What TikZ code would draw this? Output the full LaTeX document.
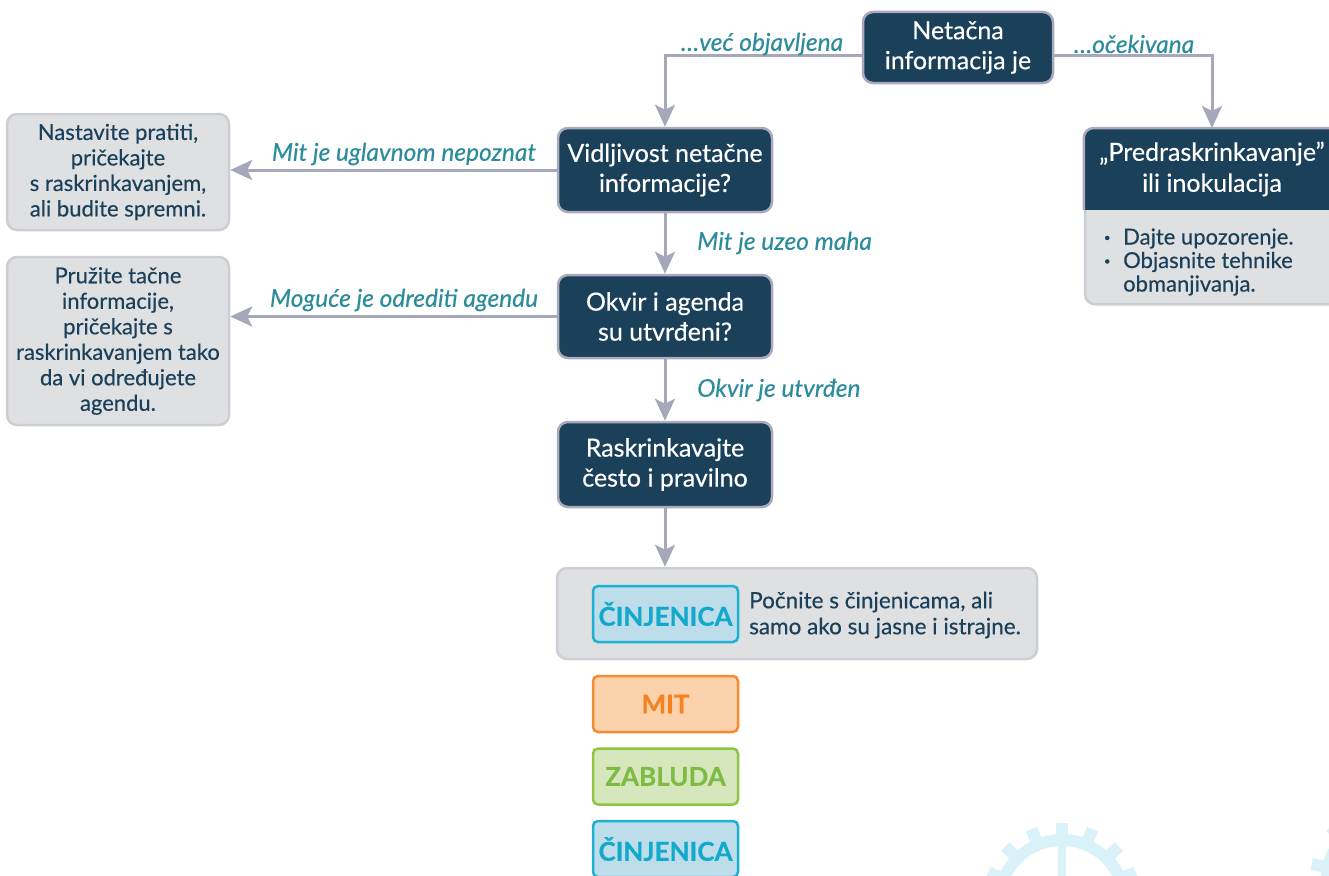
\documentclass[tikz,border=0pt]{standalone}
\usepackage{fontspec}
\setmainfont{Lato}[FakeBold=0.35]
\usetikzlibrary{arrows.meta,calc}
\definecolor{navy}{HTML}{1B4059}
\definecolor{nborder}{HTML}{A9AABC}
\definecolor{gfill}{HTML}{DFE0E2}
\definecolor{gborder}{HTML}{CDCED4}
\definecolor{dtext}{HTML}{1B4059}
\definecolor{tealc}{HTML}{2C8C9C}
\definecolor{arrowc}{HTML}{A6A7B9}
\definecolor{cfill}{HTML}{BCDDE9}
\definecolor{cdraw}{HTML}{1CB0D2}
\definecolor{ctext}{HTML}{12A9CC}
\definecolor{mfill}{HTML}{FCD2AC}
\definecolor{mdraw}{HTML}{F58A2F}
\definecolor{mtext}{HTML}{F5821F}
\definecolor{zfill}{HTML}{D7E7BD}
\definecolor{zdraw}{HTML}{8DC641}
\definecolor{ztext}{HTML}{7DBB42}
\definecolor{gearc}{HTML}{D9F1F8}
\tikzset{
  darkbox/.style={draw=nborder, line width=2.5pt, fill=navy, rounded corners=10pt,
    text=white, align=center, font=\fontsize{25}{30}\selectfont, minimum width=214pt, inner sep=0pt},
  graybox/.style={draw=gborder, line width=2.5pt, fill=gfill, rounded corners=10pt,
    text=dtext, align=center, font=\fontsize{22}{25.5}\selectfont, inner sep=0pt},
  lbl/.style={text=tealc, font=\fontsize{24.5}{28}\selectfont\itshape, inner sep=0pt},
  arr/.style={draw=arrowc, line width=3pt, -{Stealth[length=22pt,width=20pt,inset=5pt]}},
  tag/.style={rounded corners=5pt, line width=2.5pt, minimum width=145pt, minimum height=56pt,
    inner sep=0pt, font=\fontsize{26}{28}\selectfont\bfseries},
  cin/.style={tag, draw=cdraw, fill=cfill, text=ctext},
  mitst/.style={tag, draw=mdraw, fill=mfill, text=mtext},
  zabst/.style={tag, draw=zdraw, fill=zfill, text=ztext},
  gearpart/.style={fill=gearc},
}
\begin{document}
\begin{tikzpicture}[x=1pt,y=-1pt]
\useasboundingbox (0,0) rectangle (1329,875);
\clip (0,0) rectangle (1329,875);

% decorative gears
\begin{scope}[shift={(1062,903)}]
  \fill[gearpart] (0,0) circle (69);
  \foreach \a in {0,22.5,...,337.5} \draw[gearc, line width=12pt] (\a:60) -- (\a:80);
  \fill[white] (0,0) circle (57);
  \fill[gearpart] (-4,-60) rectangle (4,60);
  \fill[gearpart] (-60,-4) rectangle (60,4);
\end{scope}
\begin{scope}[shift={(1390,880)}]
  \fill[gearpart] (0,0) circle (69);
  \foreach \i in {0,...,11} \draw[gearc, line width=12pt] (221.6+30*\i:60) -- (221.6+30*\i:80);
  \fill[white] (0,0) circle (57);
\end{scope}

% main flow
\node[darkbox, minimum width=190pt, minimum height=71pt] (top) at (958,47.5) {Netačna\\informacija je};
\node[darkbox, minimum height=84pt] (vid) at (665,170) {Vidljivost netačne\\informacije?};
\node[darkbox, minimum height=83pt] (okv) at (665,316.5) {Okvir i agenda\\su utvrđeni?};
\node[darkbox, minimum height=85pt] (ras) at (665,464.5) {Raskrinkavajte\\često i pravilno};

\node[graybox, minimum width=222pt, minimum height=116pt] (b1) at (118,172)
  {Nastavite pratiti,\\pričekajte\\s raskrinkavanjem,\\ali budite spremni.};
\node[graybox, minimum width=222pt, minimum height=168pt] (b2) at (118,341)
  {Pružite tačne\\informacije,\\pričekajte s\\raskrinkavanjem tako\\da vi određujete\\agendu.};

% right box
\node[graybox, minimum width=254pt, minimum height=175pt, anchor=north] (preout) at (1212,128) {};
\begin{scope}
  \clip[rounded corners=10pt] (preout.north west) rectangle (preout.south east);
  \fill[navy] (preout.north west) rectangle ($(preout.north east)+(0,82)$);
\end{scope}
\draw[nborder, line width=2.5pt, rounded corners=10pt]
  ($(preout.north west)+(0,82)$) -- (preout.north west) -- (preout.north east) -- ($(preout.north east)+(0,82)$);
\node[text=white, align=center, font=\fontsize{25}{31}\selectfont, inner sep=0pt] (pre)
  at ($(preout.north)+(0,41)$) {„Predraskrinkavanje”\\ili inokulacija};
\node[anchor=west, text=dtext, align=left, font=\fontsize{22}{23.5}\selectfont, inner sep=0pt] (prebody)
  at (1104,262) {\makebox[19pt][l]{\textbf{·}}Dajte upozorenje.\\\makebox[19pt][l]{\textbf{·}}Objasnite tehnike\\\hspace*{19pt}obmanjivanja.};

% bottom
\node[graybox, minimum width=480pt, minimum height=91pt] (fact) at (797,613.5) {};
\node[cin] (c1) at (665.5,614) {ČINJENICA};
\node[anchor=west, text=dtext, align=left, font=\fontsize{22.5}{26}\selectfont, inner sep=0pt] (ftxt)
  at (749,615) {Počnite s činjenicama, ali\\samo ako su jasne i istrajne.};
\node[mitst] (mit) at (665.5,704) {MIT};
\node[zabst] (zab) at (665.5,776.5) {ZABLUDA};
\node[cin] (c2) at (665.5,849) {ČINJENICA};

% connectors
\draw[arr] ([yshift=-8.5pt]top.west) -| (vid.north);
\draw[arr] ([yshift=-8.5pt]top.east) -| (preout.north);
\draw[arr] (vid.west) -- (vid.west -| b1.east);
\draw[arr] (okv.west) -- (okv.west -| b2.east);
\draw[arr] (vid.south) -- (okv.north);
\draw[arr] (okv.south) -- (ras.north);
\draw[arr] (ras.south) -- (ras.south |- fact.north);

% labels
\node[lbl] (l1) at (762,44) {…već objavljena};
\node[lbl] (l2) at (1134,44) {…očekivana};
\node[lbl] (l3) at (404,154) {Mit je uglavnom nepoznat};
\node[lbl] (l4) at (404,300) {Moguće je odrediti agendu};
\node[lbl, anchor=west] (l5) at (697,243) {Mit je uzeo maha};
\node[lbl, anchor=west] (l6) at (697,390) {Okvir je utvrđen};
\end{tikzpicture}
\end{document}
